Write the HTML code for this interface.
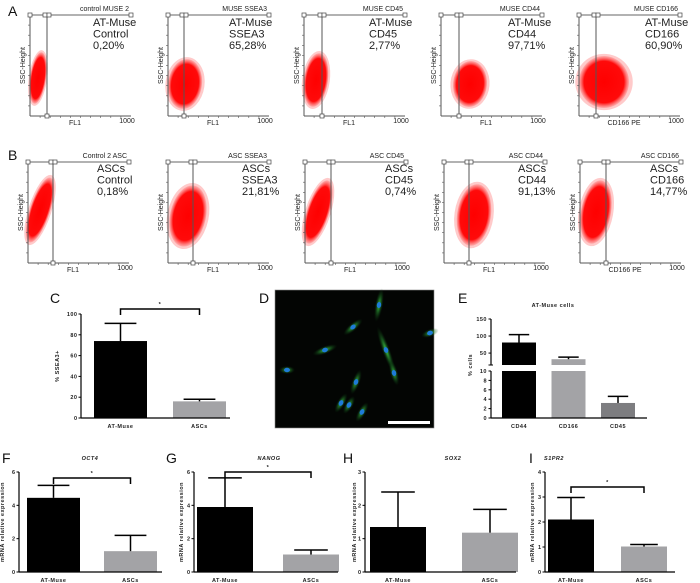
<!DOCTYPE html>
<html><head><meta charset="utf-8"><style>
html,body{margin:0;padding:0;background:#fff;}
svg{display:block;font-family:"Liberation Sans",sans-serif;}
.tk{font-size:5.5px;font-weight:bold;fill:#222;letter-spacing:0.5px;}
.pl{font-size:14px;fill:#111;}
.ft{font-size:11px;fill:#222;}
.fs{font-size:7px;fill:#222;}
</style></head><body>
<svg id="fig" width="700" height="583" viewBox="0 0 700 583">
<defs>
<radialGradient id="blob"><stop offset="0" stop-color="#ff0000" stop-opacity="1"/><stop offset="0.8" stop-color="#ff0000" stop-opacity="0.95"/><stop offset="1" stop-color="#ff3030" stop-opacity="0.2"/></radialGradient>
<radialGradient id="cellg"><stop offset="0" stop-color="#3fd24a"/><stop offset="1" stop-color="#0a3a10" stop-opacity="0"/></radialGradient>
</defs>
<g id="flow"></g>
<g id="charts"></g>
<g id="micro"></g>
</svg>
<script>
const NS='http://www.w3.org/2000/svg';
function mk(parent,tag,attrs,text){const e=document.createElementNS(NS,tag);for(const k in attrs)e.setAttribute(k,attrs[k]);if(text!==undefined)e.textContent=text;parent.appendChild(e);return e;}

/* ---------- Flow cytometry panels ---------- */
const flowTitles=[["control MUSE 2","MUSE SSEA3","MUSE CD45","MUSE CD44","MUSE CD166"],["Control 2 ASC","ASC SSEA3","ASC CD45","ASC CD44","ASC CD166"]];
const flowCells=["AT-Muse","ASCs"];
const flowMarkers=["Control","SSEA3","CD45","CD44","CD166"];
const flowPercents=[["0,20%","65,28%","2,77%","97,71%","60,90%"],["0,18%","21,81%","0,74%","91,13%","14,77%"]];
const flowXLabels=["FL1","FL1","FL1","FL1","CD166 PE"];
const flowLefts=[[30,168,304,441,579],[28,168,305,444,580]];
const flowTops=[15,162];
const flowGate=[[17,16,18,18,17],[25,25,26,25,26]];
const flowText=[[63,61,65,67,66],[69,74,80,74,70]];
const blobs=[[[38,78,8,26,8],[185,84,17,25,8],[316,80,12,27,8],[470,84,17,23,5],[604,82,25,26,0]],
[[40,210,10,34,18],[188,216,18,31,12],[318,212,11,33,18],[474,215,17,31,8],[596,212,15,32,10]]];
const flow=document.getElementById('flow');
for(let r=0;r<2;r++){
 const lbl=mk(flow,'text',{x:8,y:r?160:16,class:'pl'},r?'B':'A');
 
 
 for(let i=0;i<5;i++){
  const x=flowLefts[r][i],y=flowTops[r],w=101,h=101;
  const g=mk(flow,'g',{});
  
  
  const b=blobs[r][i];
  mk(g,'ellipse',{cx:b[0],cy:b[1],rx:b[2]*1.15,ry:b[3]*1.08,fill:'#ff5050',opacity:0.3,transform:`rotate(${b[4]} ${b[0]} ${b[1]})`});
  mk(g,'ellipse',{cx:b[0],cy:b[1],rx:b[2],ry:b[3],fill:'url(#blob)',transform:`rotate(${b[4]} ${b[0]} ${b[1]})`});
  mk(g,'line',{x1:x,y1:y,x2:x,y2:y+h,stroke:'#555','stroke-width':1});
  mk(g,'line',{x1:x,y1:y+h,x2:x+w,y2:y+h,stroke:'#555','stroke-width':1});
  mk(g,'line',{x1:x,y1:y,x2:x+w,y2:y,stroke:'#666','stroke-width':1});
  mk(g,'line',{x1:x+flowGate[r][i],y1:y,x2:x+flowGate[r][i],y2:y+h,stroke:'#555','stroke-width':1});
  for(const q of [[x,y],[x+flowGate[r][i]-2,y],[x+flowGate[r][i]+2,y],[x+w,y],[x+flowGate[r][i],y+h]])
    mk(g,'rect',{x:q[0]-2,y:q[1]-2,width:4,height:4,fill:'#fff',stroke:'#444','stroke-width':0.7});
  for(let t=1;t<10;t++){mk(g,'line',{x1:x-2,y1:y+t*h/10,x2:x,y2:y+t*h/10,stroke:'#555','stroke-width':0.6});
   mk(g,'line',{x1:x+t*w/10,y1:y+h,x2:x+t*w/10,y2:y+h+2,stroke:'#555','stroke-width':0.6});}
  mk(g,'text',{x:x+w-2,y:y-4,class:'fs','text-anchor':'end'},flowTitles[r][i]);
  const tx=x+flowText[r][i],ty=y+(r?10:11);
  mk(g,'text',{x:tx,y:ty,class:'ft'},flowCells[r]);
  mk(g,'text',{x:tx,y:ty+11.5,class:'ft'},flowMarkers[i]);
  mk(g,'text',{x:tx,y:ty+23,class:'ft'},flowPercents[r][i]);
  mk(g,'text',{x:x+45,y:y+h+9,class:'fs','text-anchor':'middle'},flowXLabels[i]);
  mk(g,'text',{x:x+w-4,y:y+h+7,class:'fs','font-size':'5','text-anchor':'middle'},'1000');
  mk(g,'text',{x:x-5,y:y+h/2,class:'fs','text-anchor':'middle',transform:`rotate(-90 ${x-5} ${y+h/2})`},'SSC-Height');
 }
}

/* ---------- Bar chart data ---------- */
const cCategories=["AT-Muse","ASCs"];
const cValues=[74,16];
const cErrors=[91,18];
const cTicks=[0,20,40,60,80,100];
const eCategories=["CD44","CD166","CD45"];
const eValues=[81,32,3.2];
const eErrors=[104,38,4.6];
const eTicksLow=[0,2,4,6,8,10];
const eTicksHigh=[50,100,150];
const geneCategories=["AT-Muse","ASCs"];
const oct4Values=[4.45,1.25];
const oct4Errors=[5.2,2.2];
const nanogValues=[3.9,1.05];
const nanogErrors=[5.65,1.32];
const sox2Values=[1.35,1.18];
const sox2Errors=[2.4,1.88];
const s1pr2Values=[2.1,1.02];
const s1pr2Errors=[2.98,1.1];
const oct4Ticks=[0,2,4,6];
const nanogTicks=[0,2,4,6];
const sox2Ticks=[0,1,2,3];
const s1pr2Ticks=[0,1,2,3,4];

const charts=document.getElementById('charts');
const fills=['#000','#a3a3a6','#7d7d80'];
function barChart(o){
 const g=mk(charts,'g',{});
 
 
 const ys=v=>o.y0-(v/o.ymax)*(o.y0-o.ytop);
 const xb=i=>o.ax+o.padL+i*o.step;
 o.values.forEach((v,i)=>{
  const r=mk(g,'rect',{x:xb(i),y:ys(v),width:o.w,height:o.y0-ys(v),fill:fills[i]});
  
  
  const cx=xb(i)+o.w/2;
  mk(g,'line',{x1:cx,y1:ys(v),x2:cx,y2:ys(o.errors[i]),stroke:'#000','stroke-width':1.5});
  mk(g,'line',{x1:cx-o.w*0.3,y1:ys(o.errors[i]),x2:cx+o.w*0.3,y2:ys(o.errors[i]),stroke:'#000','stroke-width':1.5});
  mk(g,'text',{x:cx,y:o.y0+10,class:'tk','text-anchor':'middle'},o.cats[i]);
 });
 mk(g,'line',{x1:o.ax,y1:o.ytop,x2:o.ax,y2:o.y0,stroke:'#000','stroke-width':1.2});
 mk(g,'line',{x1:o.ax,y1:o.y0,x2:o.xend,y2:o.y0,stroke:'#000','stroke-width':1.2});
 o.ticks.forEach(t=>{mk(g,'line',{x1:o.ax-2.5,y1:ys(t),x2:o.ax,y2:ys(t),stroke:'#000','stroke-width':1});
  mk(g,'text',{x:o.ax-3.5,y:ys(t)+2,class:'tk','text-anchor':'end'},String(t));});
 const yl=mk(g,'text',{x:o.ylx,y:(o.y0+o.ytop)/2,class:'tk','text-anchor':'middle',transform:`rotate(-90 ${o.ylx} ${(o.y0+o.ytop)/2})`},o.ylabel);
 
 
 if(o.title){mk(g,'text',{x:o.tx,y:o.ty,class:'tk','font-size':'6.5','font-style':'italic','text-anchor':'middle'},o.title);}
 if(o.brY){const a=xb(0)+o.w/2,b=xb(1)+o.w/2;
  mk(g,'path',{d:`M${a} ${o.brY+6}V${o.brY}H${b}V${o.brY+6}`,fill:'none',stroke:'#000','stroke-width':1.5});
  mk(g,'text',{x:(a+b)/2,y:o.brY-3,class:'tk','text-anchor':'middle'},'*');}
 const pl=mk(g,'text',{x:o.lx,y:o.ly,class:'pl'},o.label);
 
 
}
barChart({name:'chart-c-ssea3',cats:cCategories,values:cValues,errors:cErrors,ticks:cTicks,ymax:100,y0:418,ytop:314,ax:81,xend:230,padL:13,step:79,w:53,ylx:59,ylabel:'% SSEA3+',brY:309,label:'C',lx:50,ly:303});
barChart({name:'chart-f-oct4',cats:geneCategories,values:oct4Values,errors:oct4Errors,ticks:oct4Ticks,ymax:6,y0:572,ytop:472,ax:19,xend:162,padL:8,step:77,w:53,ylx:4,ylabel:'mRNA relative expression',title:'OCT4',tx:90,ty:460,brY:478,label:'F',lx:2,ly:463});
barChart({name:'chart-g-nanog',cats:geneCategories,values:nanogValues,errors:nanogErrors,ticks:nanogTicks,ymax:6,y0:572,ytop:472,ax:194,xend:338,padL:3,step:86,w:56,ylx:183,ylabel:'mRNA relative expression',title:'NANOG',tx:269,ty:460,brY:472,label:'G',lx:166,ly:463});
barChart({name:'chart-h-sox2',cats:geneCategories,values:sox2Values,errors:sox2Errors,ticks:sox2Ticks,ymax:3,y0:572,ytop:472,ax:365,xend:516,padL:5,step:92,w:56,ylx:356,ylabel:'mRNA relative expression',title:'SOX2',tx:453,ty:460,label:'H',lx:343,ly:463});
barChart({name:'chart-i-s1pr2',cats:geneCategories,values:s1pr2Values,errors:s1pr2Errors,ticks:s1pr2Ticks,ymax:4,y0:572,ytop:472,ax:545,xend:675,padL:3,step:73,w:46,ylx:534,ylabel:'mRNA relative expression',title:'S1PR2',tx:554,ty:460,brY:487,label:'I',lx:529,ly:463});

/* ---------- Panel E broken axis ---------- */
(function(){
 const g=mk(charts,'g',{});
 
 
 const ax=491,y0=418,yLowTop=371,yHighBot=365,yHighTop=319;
 const yLow=v=>y0-(v/10)*(y0-yLowTop);
 const yHigh=v=>yHighBot-((v-15)/(150-15))*(yHighBot-yHighTop);
 const ys=v=>v<=10?yLow(v):yHigh(v);
 const padL=11,step=49.5,w=34;
 eValues.forEach((v,i)=>{
  const x=ax+padL+i*step,cx=x+w/2;
  const r=mk(g,'rect',{x:x,y:yLow(Math.min(v,10)),width:w,height:y0-yLow(Math.min(v,10)),fill:fills[i]});
  
  
  if(v>15){mk(g,'rect',{x:x,y:yHigh(v),width:w,height:yHighBot-yHigh(v),fill:fills[i]});}
  mk(g,'line',{x1:cx,y1:ys(v),x2:cx,y2:ys(eErrors[i]),stroke:'#000','stroke-width':1.5});
  mk(g,'line',{x1:cx-w*0.3,y1:ys(eErrors[i]),x2:cx+w*0.3,y2:ys(eErrors[i]),stroke:'#000','stroke-width':1.5});
  mk(g,'text',{x:cx,y:y0+10,class:'tk','text-anchor':'middle'},eCategories[i]);
 });
 mk(g,'line',{x1:ax,y1:yLowTop,x2:ax,y2:y0,stroke:'#000','stroke-width':1.2});
 mk(g,'line',{x1:ax,y1:yHighTop,x2:ax,y2:yHighBot,stroke:'#000','stroke-width':1.2});
 mk(g,'line',{x1:ax-2.5,y1:yHighBot,x2:ax+2,y2:yHighBot,stroke:'#000','stroke-width':1});
 mk(g,'line',{x1:ax,y1:y0,x2:647,y2:y0,stroke:'#000','stroke-width':1.2});
 eTicksLow.forEach(t=>{mk(g,'line',{x1:ax-2.5,y1:yLow(t),x2:ax,y2:yLow(t),stroke:'#000'});
  mk(g,'text',{x:ax-4,y:yLow(t)+2,class:'tk','text-anchor':'end'},String(t));});
 eTicksHigh.forEach(t=>{mk(g,'line',{x1:ax-2.5,y1:yHigh(t),x2:ax,y2:yHigh(t),stroke:'#000'});
  mk(g,'text',{x:ax-4,y:yHigh(t)+2,class:'tk','text-anchor':'end'},String(t));});
 const yl=mk(g,'text',{x:472,y:365,class:'tk','text-anchor':'middle',transform:'rotate(-90 472 365)'},'% cells');
 
 
 const tt=mk(g,'text',{x:553,y:307,class:'tk','font-size':'6.5','text-anchor':'middle'},'AT-Muse cells');
 
 
 const pl=mk(g,'text',{x:458,y:303,class:'pl'},'E');
 
 
})();

/* ---------- Panel D microscopy ---------- */
(function(){
 const g=document.getElementById('micro');
 const pl=mk(g,'text',{x:259,y:303,class:'pl'},'D');
 
 
 mk(g,'rect',{x:275,y:290,width:159,height:138,fill:'#030503',stroke:'#888','stroke-width':0.6});
 const cells=[[379,305,-80,14],[353,327,-40,9],[325,350,-20,10],[430,333,-20,6],[386,350,70,22],[394,373,75,10],[287,370,0,5],[356,382,-70,10],[341,403,-60,8],[349,405,-60,7],[362,412,-60,8]];
 cells.forEach(c=>{
  mk(g,'ellipse',{cx:c[0],cy:c[1],rx:c[3]+3,ry:4,fill:'url(#cellg)',transform:`rotate(${c[2]} ${c[0]} ${c[1]})`});
  mk(g,'ellipse',{cx:c[0],cy:c[1],rx:3,ry:2.2,fill:'#1e7bd8',transform:`rotate(${c[2]} ${c[0]} ${c[1]})`});
 });
 const sb=mk(g,'rect',{x:388,y:421,width:42,height:3,fill:'#fff'});
 
 
})();
</script>
</body></html>
